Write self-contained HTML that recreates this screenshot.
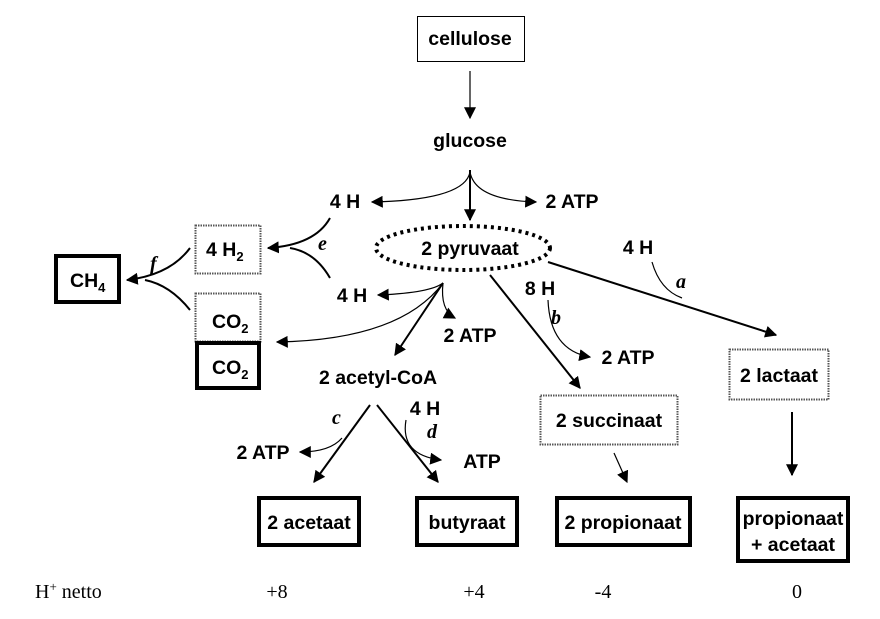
<!DOCTYPE html>
<html><head><style>
body{margin:0;background:#fff}
svg{display:block}
.t{font-family:"Liberation Sans",Arial,sans-serif;font-weight:bold;font-size:19.5px;fill:#000}
.s{font-family:"Liberation Serif",serif;font-size:20px;fill:#000}
.i{font-family:"Liberation Serif",serif;font-style:italic;font-weight:bold;font-size:20px;fill:#000}
</style></head><body>
<svg width="880" height="619" viewBox="0 0 880 619" xmlns="http://www.w3.org/2000/svg">
<defs>
<marker id="b" viewBox="0 0 10 10" refX="9" refY="5" markerWidth="12" markerHeight="12" orient="auto" markerUnits="userSpaceOnUse"><path d="M0,0L10,5L0,10z"/></marker>
</defs>
<g fill="none" stroke="#000">
<rect x="417.5" y="16.5" width="107" height="45" stroke-width="1"/>
<rect x="195.5" y="225.5" width="65" height="48" stroke-width="2" stroke-dasharray="1.5,1" stroke="#555"/>
<rect x="195.5" y="293.5" width="65" height="48" stroke-width="2" stroke-dasharray="1.5,1" stroke="#555"/>
<rect x="729.5" y="349.5" width="99" height="50" stroke-width="2" stroke-dasharray="1.5,1" stroke="#555"/>
<rect x="540.5" y="395.5" width="137" height="49" stroke-width="2" stroke-dasharray="1.5,1" stroke="#555"/>
<rect x="197" y="343" width="62" height="45" stroke-width="4"/>
<rect x="56" y="256" width="63" height="46" stroke-width="4"/>
<rect x="259" y="498" width="100" height="47" stroke-width="4"/>
<rect x="417" y="498" width="100" height="47" stroke-width="4"/>
<rect x="557" y="498" width="133" height="47" stroke-width="4"/>
<rect x="738" y="498" width="110" height="63" stroke-width="4"/>
<ellipse cx="463" cy="248" rx="87" ry="22" stroke-width="4" stroke-dasharray="3,4"/>
<g stroke-width="1.2">
<line x1="470" y1="71" x2="470" y2="118" marker-end="url(#b)"/>
<line x1="470" y1="170" x2="470" y2="220" stroke-width="2" marker-end="url(#b)"/>
<path d="M470,172 Q465,200 372,202" marker-end="url(#b)"/>
<path d="M470,172 Q475,200 536,202" marker-end="url(#b)"/>
<path d="M330,218 Q315,245 268,248" stroke-width="2" marker-end="url(#b)"/>
<path d="M330,278 Q315,252 290,248" stroke-width="2"/>
<path d="M190,248 Q170,275 127,280" stroke-width="2" marker-end="url(#b)"/>
<path d="M190,310 Q170,285 145,280" stroke-width="2"/>
<path d="M443,283 Q430,293 378,295" marker-end="url(#b)"/>
<line x1="443" y1="283" x2="395" y2="355" stroke-width="2" marker-end="url(#b)"/>
<path d="M443,283 Q440,310 455,318" marker-end="url(#b)"/>
<path d="M443,283 Q400,340 277,342" marker-end="url(#b)"/>
<line x1="490" y1="275" x2="580" y2="388" stroke-width="2" marker-end="url(#b)"/>
<path d="M548,300 Q550,350 590,357" marker-end="url(#b)"/>
<line x1="548" y1="262" x2="776" y2="335" stroke-width="2" marker-end="url(#b)"/>
<path d="M652,262 Q660,290 682,298"/>
<line x1="792" y1="412" x2="792" y2="475" stroke-width="2" marker-end="url(#b)"/>
<line x1="614" y1="453" x2="627" y2="482" marker-end="url(#b)"/>
<line x1="370" y1="405" x2="314" y2="482" stroke-width="2" marker-end="url(#b)"/>
<path d="M342,438 Q330,452 300,452" marker-end="url(#b)"/>
<line x1="377" y1="405" x2="438" y2="482" stroke-width="2" marker-end="url(#b)"/>
<path d="M406,420 Q400,455 441,460" marker-end="url(#b)"/>
</g>
</g>
<g class="t">
<text x="470" y="45" text-anchor="middle">cellulose</text>
<text x="470" y="147" text-anchor="middle">glucose</text>
<text x="345" y="208" text-anchor="middle">4 H</text>
<text x="572" y="208" text-anchor="middle">2 ATP</text>
<text x="470" y="255" text-anchor="middle">2 pyruvaat</text>
<text x="206" y="256">4 H<tspan font-size="13" dy="5">2</tspan></text>
<text x="70" y="287">CH<tspan font-size="13" dy="5">4</tspan></text>
<text x="212" y="328">CO<tspan font-size="13" dy="5">2</tspan></text>
<text x="212" y="374">CO<tspan font-size="13" dy="5">2</tspan></text>
<text x="352" y="302" text-anchor="middle">4 H</text>
<text x="470" y="342" text-anchor="middle">2 ATP</text>
<text x="378" y="384" text-anchor="middle">2 acetyl-CoA</text>
<text x="540" y="295" text-anchor="middle">8 H</text>
<text x="628" y="364" text-anchor="middle">2 ATP</text>
<text x="638" y="254" text-anchor="middle">4 H</text>
<text x="779" y="382" text-anchor="middle">2 lactaat</text>
<text x="609" y="427" text-anchor="middle">2 succinaat</text>
<text x="263" y="459" text-anchor="middle">2 ATP</text>
<text x="425" y="415" text-anchor="middle">4 H</text>
<text x="482" y="468" text-anchor="middle">ATP</text>
<text x="309" y="529" text-anchor="middle">2 acetaat</text>
<text x="467" y="529" text-anchor="middle">butyraat</text>
<text x="623" y="529" text-anchor="middle">2 propionaat</text>
<text x="793" y="525" text-anchor="middle">propionaat</text>
<text x="793" y="551" text-anchor="middle">+ acetaat</text>
</g>
<g class="i">
<text x="318" y="250">e</text>
<text x="150" y="270">f</text>
<text x="676" y="288">a</text>
<text x="551" y="324">b</text>
<text x="332" y="424">c</text>
<text x="427" y="438">d</text>
</g>
<g class="s">
<text x="35" y="598">H<tspan font-size="13" dy="-7">+</tspan><tspan dy="7"> netto</tspan></text>
<text x="277" y="598" text-anchor="middle">+8</text>
<text x="474" y="598" text-anchor="middle">+4</text>
<text x="603" y="598" text-anchor="middle">-4</text>
<text x="797" y="598" text-anchor="middle">0</text>
</g>
</svg>
</body></html>
